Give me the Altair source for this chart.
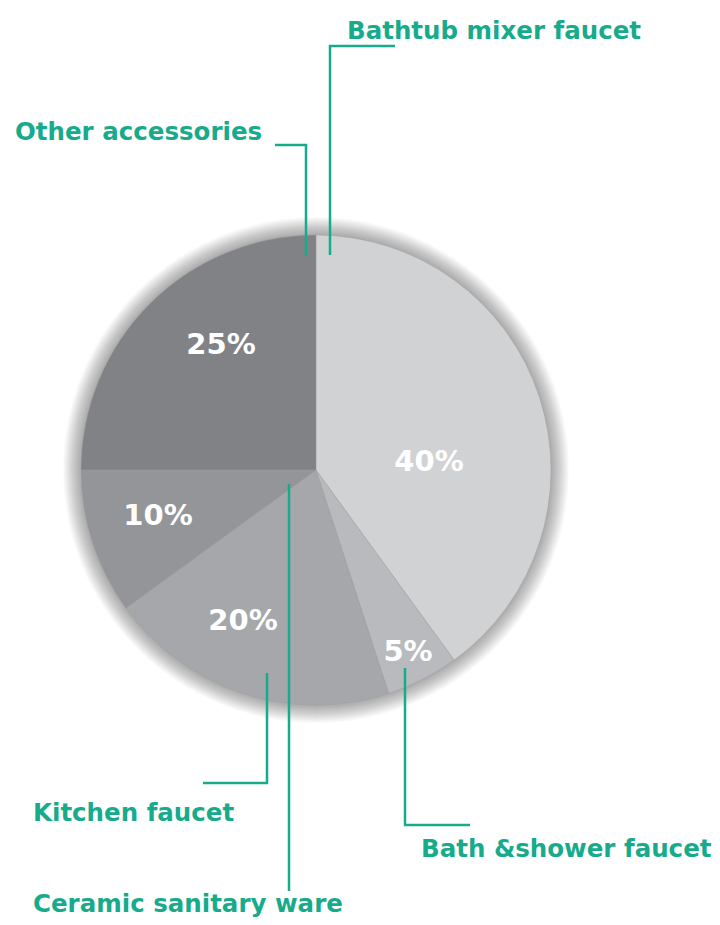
import altair as alt
import pandas as pd

# Pie data (clockwise from 12 o'clock)
categories = ["Bathtub mixer faucet", "Bath &shower faucet", "Kitchen faucet",
              "Ceramic sanitary ware", "Other accessories"]
values = [40, 5, 20, 10, 25]
colors = ["#d1d2d4", "#b9babd", "#a6a7ab", "#939598", "#808285"]

# percent labels (baseline positions)
pct_text = ["40%", "5%", "20%", "10%", "25%"]
pct_x = [429, 408, 243, 158, 221]
pct_y = [471, 661, 630, 525, 354]

# category labels (left x, baseline y)
lab_text = ["Bathtub mixer faucet", "Other accessories", "Kitchen faucet",
            "Bath &shower faucet", "Ceramic sanitary ware"]
lab_x = [347, 15, 33, 421, 33]
lab_y = [39, 140, 821, 857, 912]

# leader lines (polylines in page pixels)
lead_id = [0, 0, 0, 1, 1, 1, 2, 2, 2, 3, 3, 3, 4, 4]
lead_ord = [0, 1, 2, 0, 1, 2, 0, 1, 2, 0, 1, 2, 0, 1]
lead_x = [395, 330, 330, 275, 306, 306, 267, 267, 203, 405, 405, 470, 289, 289]
lead_y = [46, 46, 255, 145, 145, 256, 673, 783, 783, 668, 825, 825, 484, 891]

CX, CY, R = 316, 470, 235
TEAL = "#17ab8b"
FONT = "DejaVu Sans"

W, H = 704, 909
xs = alt.Scale(domain=[8, 8 + W], range=[0, W])
ys = alt.Scale(domain=[8, 8 + H], range=[0, H])

pie_df = pd.DataFrame({"cat": categories, "val": values, "idx": list(range(5))})
pct_df = pd.DataFrame({"t": pct_text, "x": pct_x, "y": pct_y})
lab_df = pd.DataFrame({"t": lab_text, "x": lab_x, "y": lab_y})
lead_df = pd.DataFrame({"g": lead_id, "o": lead_ord, "x": lead_x, "y": lead_y})
center_df = pd.DataFrame({"cx": [CX], "cy": [CY]})

layers = []
# soft shadow
for k in range(1, 19):
    layers.append(
        alt.Chart(center_df).mark_arc(theta=0, theta2=6.2832, outerRadius=R + k,
                                       color="black", opacity=0.02)
        .encode(x=alt.X("cx:Q", scale=xs, axis=None), y=alt.Y("cy:Q", scale=ys, axis=None))
    )

pie = alt.Chart(pie_df).mark_arc(outerRadius=R, stroke="#9c9da0", strokeWidth=0.4).encode(
    theta=alt.Theta("val:Q", stack=True),
    order=alt.Order("idx:Q"),
    color=alt.Color("cat:N", scale=alt.Scale(domain=categories, range=colors), legend=None),
    x=alt.X(datum=CX, scale=xs, axis=None),
    y=alt.Y(datum=CY, scale=ys, axis=None),
)
layers.append(pie)

pct = alt.Chart(pct_df).mark_text(font=FONT, fontWeight="bold", fontSize=29, color="white",
                                  align="center", baseline="alphabetic").encode(
    x=alt.X("x:Q", scale=xs, axis=None), y=alt.Y("y:Q", scale=ys, axis=None), text="t:N")
layers.append(pct)

lead = alt.Chart(lead_df).mark_line(color=TEAL, strokeWidth=2.5, strokeCap="butt",
                                    strokeJoin="miter").encode(
    x=alt.X("x:Q", scale=xs, axis=None), y=alt.Y("y:Q", scale=ys, axis=None),
    detail="g:N", order="o:Q")
layers.append(lead)

labs = alt.Chart(lab_df).mark_text(font=FONT, fontWeight="bold", fontSize=24.5, color=TEAL,
                                   align="left", baseline="alphabetic").encode(
    x=alt.X("x:Q", scale=xs, axis=None), y=alt.Y("y:Q", scale=ys, axis=None), text="t:N")
layers.append(labs)

chart = alt.layer(*layers).properties(
    width=W, height=H, padding=0, autosize=alt.AutoSizeParams(type="none")
).configure_view(stroke=None)
chart.save("out.html", embed_options={"renderer": "svg", "actions": False})
